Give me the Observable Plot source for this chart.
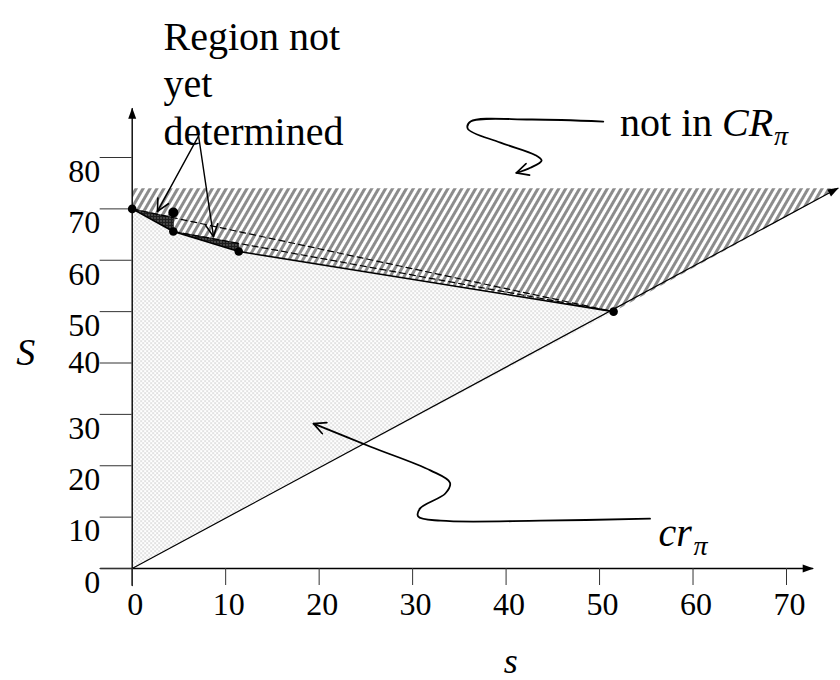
<!DOCTYPE html>
<html><head><meta charset="utf-8">
<script src="https://cdn.jsdelivr.net/npm/d3@7"></script>
<script src="https://cdn.jsdelivr.net/npm/@observablehq/plot@0.6"></script>
<style>body{margin:0;background:#fff} svg{display:block}</style>
</head><body><div id="chart"></div>
<script>
// ---- data (s = horizontal, S = vertical) ----
const xTicks = [0, 10, 20, 30, 40, 50, 60, 70];
const yTicks = [0, 10, 20, 30, 40, 50, 60, 70, 80];
const frontier = [[0, 70], [4.4, 65.6], [11.4, 61.7], [51.5, 50]];
const extraDots = [[4.4, 69.3]];
const diagonal = [[0, 0], [75.5, 74]];
const notCRRegion = [[0, 74], [75.5, 74], [51.5, 50], [11.4, 61.7], [4.4, 65.6], [0, 70]];
const crRegion = [[0, 0], [0, 70], [4.4, 65.6], [11.4, 61.7], [51.5, 50]];
const undeterminedA = [[0, 70], [4.4, 68.3], [4.4, 65.6]];
const undeterminedB = [[4.4, 65.6], [11.4, 63.3], [11.4, 61.7]];
const dashedA = [[0, 70], [51.5, 50]];
const dashedB = [[4.4, 65.6], [51.5, 50]];
const xAxisLine = [[-3.4, 0], [72.8, 0]];
const yAxisLine = [[0, -3.3], [0, 89.5]];
const notInCurve = [[50.4, 87.0], [42.6, 87.4], [36.2, 87.0], [35.9, 85.6], [39.4, 82.9], [43.1, 80.5], [43.8, 79.4], [42.6, 78.0], [41.1, 77.0]];
const crCurve = [[55.4, 9.7], [43.7, 9.3], [33.0, 9.3], [30.6, 10.1], [30.8, 11.7], [33.5, 14.6], [34.0, 16.7], [31.9, 19.1], [25.5, 23.7], [19.4, 28.2]];
const regionArrows = [[[7.1, 84.2], [2.7, 69.5]], [[7.1, 84.2], [8.7, 64.6]]];
const regionLines = [{t: "Region not", s: 3.35, S: 103.5}, {t: "yet", s: 3.35, S: 94.2}, {t: "determined", s: 3.35, S: 84.9}];
const notInLabel = {s: 52.2, S: 86.6};
const crLabel = {s: 56.3, S: 6.8};
const yTitle = {s: -11.4, S: 42.0};
const xTitle = {s: 40.5, S: -18.0};

const serif = "'Liberation Serif', 'Times New Roman', serif";
const X = d => d[0], Y = d => d[1];

const chart = Plot.plot({
  width: 840, height: 680,
  marginLeft: 131.7, marginRight: 54, marginTop: 157, marginBottom: 112,
  x: {domain: [0, 70]},
  y: {domain: [0, 80]},
  style: {fontFamily: serif, color: "black", background: "white", overflow: "visible"},
  marks: [
    Plot.line(notCRRegion, {x: X, y: Y, fill: "url(#hatch)", stroke: "none"}),
    Plot.line(crRegion, {x: X, y: Y, fill: "url(#stipple)", stroke: "none"}),
    Plot.line(undeterminedA, {x: X, y: Y, fill: "url(#dark)", stroke: "#111", strokeWidth: 0.8}),
    Plot.line(undeterminedB, {x: X, y: Y, fill: "url(#dark)", stroke: "#111", strokeWidth: 0.8}),
    Plot.line(dashedA, {x: X, y: Y, stroke: "black", strokeWidth: 1.2, strokeDasharray: "6,4"}),
    Plot.line(dashedB, {x: X, y: Y, stroke: "black", strokeWidth: 1.2, strokeDasharray: "6,4"}),
    Plot.line(frontier, {x: X, y: Y, stroke: "black", strokeWidth: 1.6}),
    Plot.line(diagonal, {x: X, y: Y, stroke: "black", strokeWidth: 1.2, markerEnd: "arrow", ariaDescription: "axis-arrow"}),
    Plot.line(xAxisLine, {x: X, y: Y, stroke: "black", strokeWidth: 1.4, markerEnd: "arrow", ariaDescription: "axis-arrow"}),
    Plot.line(yAxisLine, {x: X, y: Y, stroke: "black", strokeWidth: 1.4, markerEnd: "arrow", ariaDescription: "axis-arrow"}),
    Plot.axisX({ticks: xTicks, tickSize: 17, tickFormat: () => "", label: null, stroke: "#333"}),
    Plot.axisY({ticks: yTicks, tickSize: 32, tickFormat: () => "", label: null, stroke: "#333"}),
    Plot.text(xTicks, {x: d => d, y: 0, text: d => String(d), dy: 36, dx: 3, fontSize: 32}),
    Plot.text(yTicks, {filter: d => d !== 40, x: 0, y: d => d, text: d => String(d), textAnchor: "end", dx: -32, dy: 14, fontSize: 32}),
    Plot.text(yTicks, {filter: d => d === 40, x: 0, y: d => d, text: d => String(d), textAnchor: "end", dx: -32, dy: 0, fontSize: 32}),
    Plot.dot(frontier, {x: X, y: Y, r: 4.3, fill: "black"}),
    Plot.dot(extraDots, {x: X, y: Y, r: 5, fill: "black"}),
    Plot.line(notInCurve, {x: X, y: Y, curve: "catmull-rom", stroke: "black", strokeWidth: 1.8, markerEnd: "arrow", ariaDescription: "note-arrow"}),
    Plot.line(crCurve, {x: X, y: Y, curve: "catmull-rom", stroke: "black", strokeWidth: 1.8, markerEnd: "arrow", ariaDescription: "note-arrow"}),
    ...regionArrows.map(seg => Plot.line(seg, {x: X, y: Y, stroke: "black", strokeWidth: 1.4, markerEnd: "arrow", ariaDescription: "note-arrow"})),
    Plot.text(regionLines, {x: "s", y: "S", text: "t", textAnchor: "start", fontSize: 40}),
    Plot.text([notInLabel], {x: "s", y: "S", text: () => "not in", textAnchor: "start", fontSize: 40}),
    Plot.text([notInLabel], {x: "s", y: "S", text: () => "CR", textAnchor: "start", fontSize: 40, fontStyle: "italic", dx: 102}),
    Plot.text([notInLabel], {x: "s", y: "S", text: () => "π", textAnchor: "start", fontSize: 28, fontStyle: "italic", dx: 154, dy: 12}),
    Plot.text([crLabel], {x: "s", y: "S", text: () => "cr", textAnchor: "start", fontSize: 40, fontStyle: "italic"}),
    Plot.text([crLabel], {x: "s", y: "S", text: () => "π", textAnchor: "start", fontSize: 28, fontStyle: "italic", dx: 35, dy: 12}),
    Plot.text([yTitle], {x: "s", y: "S", text: () => "S", fontSize: 38, fontStyle: "italic"}),
    Plot.text([xTitle], {x: "s", y: "S", text: () => "s", fontSize: 36, fontStyle: "italic"})
  ]
});

// pattern definitions for the filled regions
const ns = "http://www.w3.org/2000/svg";
const defs = document.createElementNS(ns, "defs");
defs.innerHTML = `
<pattern id="hatch" patternUnits="userSpaceOnUse" width="6" height="6" patternTransform="rotate(30)">
  <rect width="6" height="6" fill="#ffffff"/><rect width="3" height="6" fill="#8c8c8c"/></pattern>
<pattern id="stipple" patternUnits="userSpaceOnUse" width="4" height="4">
  <rect width="4" height="4" fill="#ffffff"/><rect x="0" y="0" width="1.2" height="1.2" fill="#b0b0b0"/><rect x="2" y="2" width="1.2" height="1.2" fill="#b0b0b0"/></pattern>
<pattern id="dark" patternUnits="userSpaceOnUse" width="3" height="3">
  <rect width="3" height="3" fill="#1e1e1e"/><rect x="1" y="1" width="1" height="1" fill="#bdbdbd"/></pattern>`;
chart.insertBefore(defs, chart.firstChild);

// arrowheads: filled triangles on axes, open chevrons on notes
function patchMarkers(label, filled) {
  chart.querySelectorAll(`g[aria-description="${label}"] path`).forEach(p => {
    const m = p.getAttribute("marker-end");
    if (!m) return;
    const id = m.slice(m.indexOf("#") + 1, m.lastIndexOf(")"));
    const marker = chart.querySelector(`[id="${id}"]`) || document.getElementById(id);
    if (!marker) return;
    marker.setAttribute("viewBox", "-14 -7 16 14");
    marker.setAttribute("markerWidth", "16");
    marker.setAttribute("markerHeight", "14");
    marker.setAttribute("markerUnits", "userSpaceOnUse");
    marker.setAttribute("refX", "0");
    marker.setAttribute("refY", "0");
    marker.setAttribute("orient", "auto");
    const path = marker.querySelector("path");
    if (!path) return;
    if (filled) {
      path.setAttribute("d", "M-10,-4L1,0L-10,4Z");
      path.setAttribute("fill", "black");
      path.setAttribute("stroke", "none");
    } else {
      path.setAttribute("d", "M-12,-6L0,0L-12,6");
      path.setAttribute("fill", "none");
      path.setAttribute("stroke", "black");
      path.setAttribute("stroke-width", "1.6");
    }
  });
}
patchMarkers("axis-arrow", true);
patchMarkers("note-arrow", false);

document.getElementById("chart").appendChild(chart);
</script>
</body></html>
